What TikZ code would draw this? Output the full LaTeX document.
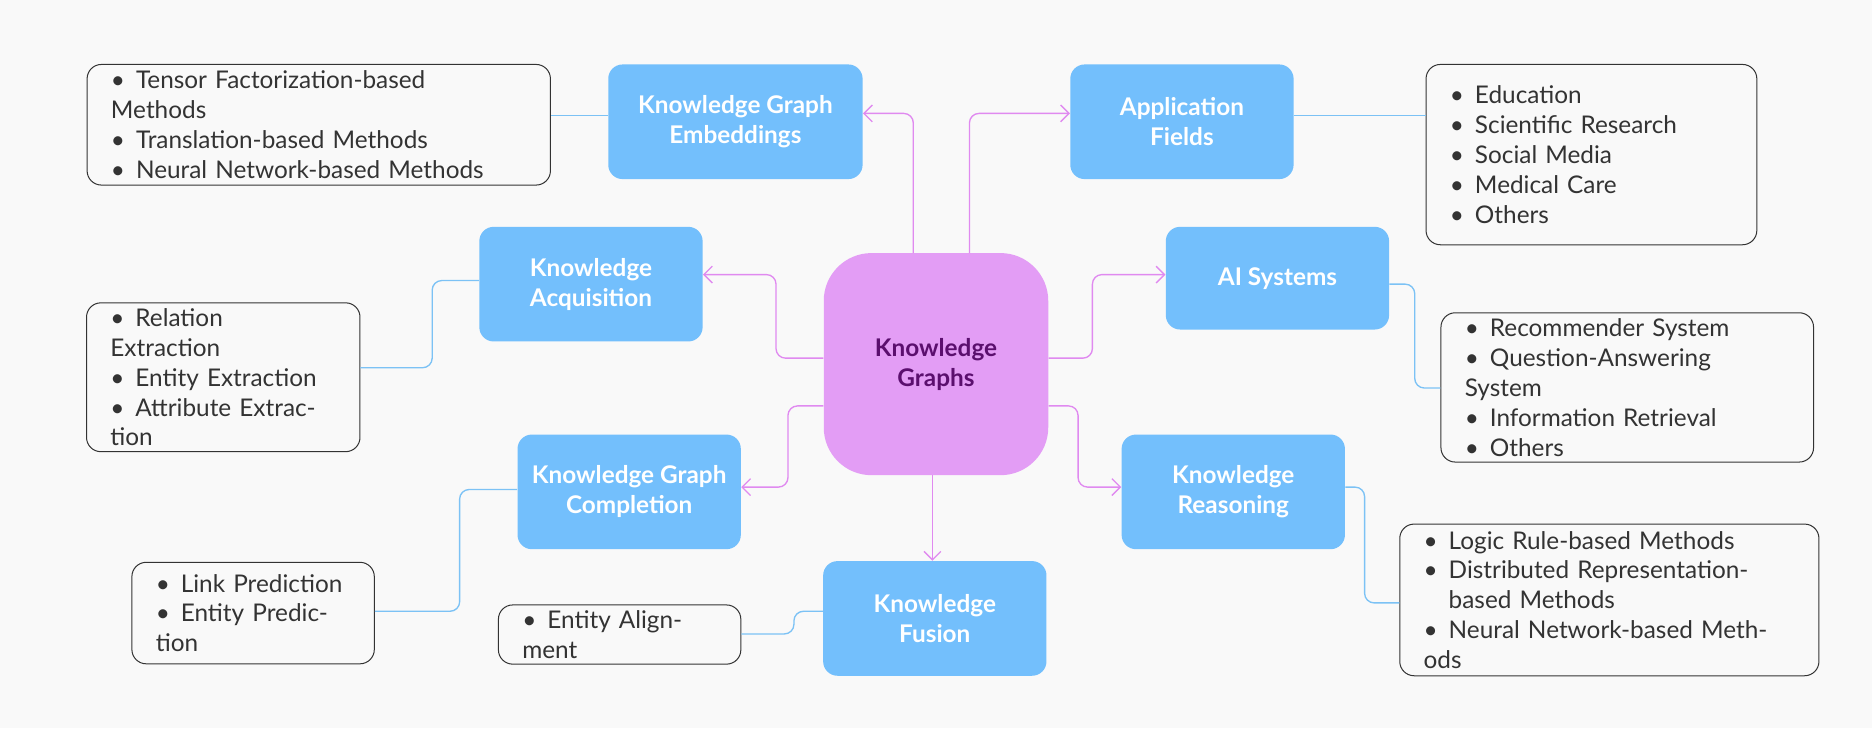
\documentclass[tikz,border=0pt]{standalone}
\usepackage{fontspec}
\setmainfont{Lato}
\usetikzlibrary{positioning, arrows.meta}
\definecolor{BgColor}{HTML}{F9F9F9}
\definecolor{TopicColor}{HTML}{73BFFC}
\definecolor{CoreColor}{HTML}{E39DF5}
\definecolor{CoreText}{HTML}{5B0F6E}
\definecolor{LinkColor}{HTML}{E08AF0}
\definecolor{LeafLine}{HTML}{7CC2F5}
\definecolor{FrameColor}{HTML}{333333}
\newcommand{\nohyph}{\hyphenpenalty=10000 \exhyphenpenalty=10000 }
\tikzset{
  topic/.style={rectangle, rounded corners=0.3cm, fill=TopicColor, text=white, font=\fontsize{14.5}{17.8}\selectfont\bfseries, align=center, minimum width=4.675cm, minimum height=2.4cm},
  leaf/.style={rectangle, rounded corners=0.3cm, draw=FrameColor, fill=BgColor, line width=0.6pt, text=FrameColor, font=\fontsize{14.5}{17.8}\selectfont, align=left, inner xsep=0.5cm},
  arrow/.style={LinkColor, line width=0.8pt, -{Straight Barb[length=5pt]}, rounded corners=0.2cm},
  leafline/.style={LeafLine, line width=0.8pt, rounded corners=0.2cm}
}
\newcommand{\itm}[1]{\nohyph\textbullet\hspace{0.45em}#1}
\newcommand{\itmcont}[1]{\phantom{\textbullet}\hspace{0.45em}#1}
\begin{document}
\begin{tikzpicture}[x=0.025cm, y=-0.025cm]
      \fill[BgColor] (0,0) rectangle (1568,610);

      % Central concept
      \node[rectangle, rounded corners=1cm, fill=CoreColor, text=CoreText, font=\fontsize{14.5}{17.8}\selectfont\bfseries, align=center, minimum width=4.7cm, minimum height=4.65cm] (core) at (784,305) {Knowledge\\Graphs};

      % Topics
      \node[topic, minimum width=5.325cm] (embed) at (616,102) {Knowledge Graph\\Embeddings};
      \node[topic] (apply) at (990,102) {Application\\Fields};
      \node[topic] (acquire) at (495,238) {Knowledge\\Acquisition};
      \node[topic, minimum height=2.15cm] (aisys) at (1070,233) {AI Systems};
      \node[topic] (complete) at (527,412) {Knowledge Graph\\Completion};
      \node[topic] (reason) at (1033,412) {Knowledge\\Reasoning};
      \node[topic] (fusion) at (783,518) {Knowledge\\Fusion};

      % Leaves
      \node[leaf, text width=8.7cm, minimum height=2.525cm] (embedlist) at (267,104.5) {\itm{Tensor Factorization-based Methods}\\\itm{Translation-based Methods}\\\itm{Neural Network-based Methods}};
      \node[leaf, text width=5.925cm, minimum height=3.775cm] (applylist) at (1333,129.5) {\itm{Education}\\\itm{Scientific Research}\\\itm{Social Media}\\\itm{Medical Care}\\\itm{Others}};
      \node[leaf, text width=4.725cm, minimum height=2.55cm] (acquirelist) at (187,316) {\itm{Relation Extraction}\\\itm{Entity Extraction}\\\itm{Attribute Extraction}};
      \node[leaf, text width=6.8cm, minimum height=3.125cm] (aisyslist) at (1363,324.5) {\itm{Recommender System}\\\itm{Question-Answering System}\\\itm{Information Retrieval}\\\itm{Others}};
      \node[leaf, text width=4.075cm, minimum height=2.125cm] (completelist) at (212,513.5) {\itm{Link Prediction}\\\itm{Entity Prediction}};
      \node[leaf, text width=4.075cm, minimum height=1.225cm] (fusionlist) at (519,531.5) {\itm{Entity Alignment}};
      \node[leaf, text width=7.775cm, minimum height=3.175cm] (reasonlist) at (1348,502.5) {\itm{Logic Rule-based Methods}\\\itm{Distributed Representation-}\\\itmcont{based Methods}\\\itm{Neural Network-based Methods}};

      % Connections
      \draw[arrow] (765,212) |- (embed.east |- 0,95);
      \draw[arrow] (812,212) |- (apply.west |- 0,95);
      \draw[arrow] (core.west |- 0,300) -- (650,300) |- (acquire.east |- 0,230);
      \draw[arrow] (core.east |- 0,300) -- (915,300) |- (aisys.west |- 0,230);
      \draw[arrow] (core.west |- 0,340) -- (660,340) |- (complete.east |- 0,408);
      \draw[arrow] (core.east |- 0,340) -- (903,340) |- (reason.west |- 0,408);
      \draw[arrow] (781,398) -- (fusion.north -| 781,0);

      % Leaf lines
      \draw[leafline] (embed.west |- 0,97) -- (embedlist.east |- 0,97);
      \draw[leafline] (apply.east |- 0,97) -- (applylist.west |- 0,97);
      \draw[leafline] (acquire.west |- 0,235) -- (362,235) |- (acquirelist.east |- 0,308);
      \draw[leafline] (aisys.east |- 0,238) -- (1185,238) |- (aisyslist.west |- 0,325);
      \draw[leafline] (complete.west |- 0,410) -- (385,410) |- (completelist.east |- 0,512);
      \draw[leafline] (reason.east |- 0,408) -- (1143,408) |- (reasonlist.west |- 0,505);
      \draw[leafline] (fusion.west |- 0,512) -- (665,512) |- (fusionlist.east |- 0,531);
\end{tikzpicture}
\end{document}
